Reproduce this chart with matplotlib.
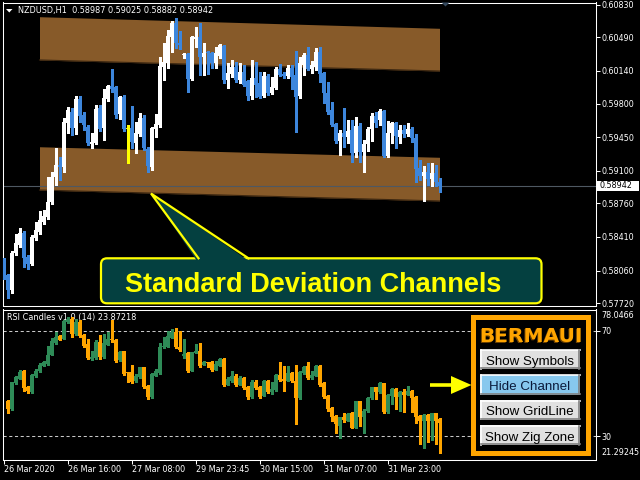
import matplotlib
matplotlib.use('Agg')
import matplotlib.pyplot as plt
from matplotlib.patches import Rectangle, Polygon, FancyBboxPatch
import numpy as np

plt.rcParams['font.family'] = ['DejaVu Sans']

symbol_title = 'NZDUSD,H1  0.58987 0.59025 0.58882 0.58942'
rsi_title = 'RSI Candles v1.0 (14) 23.87218'
callout_text = 'Standard Deviation Channels'
panel_title = 'BERMAUI'
button_labels = ['Show Symbols', 'Hide Channel', 'Show GridLine', 'Show Zig Zone']
bid = 0.58942

# NZDUSD H1 candles
price_open = [
    0.58170, 0.58013, 0.57857, 0.58243, 0.58326, 0.58451, 0.58199, 0.58128, 0.58399, 0.58462,
    0.58566, 0.58618, 0.58774, 0.59035, 0.59160, 0.59139, 0.59597, 0.59712, 0.59545, 0.59847,
    0.59681, 0.59556, 0.59378, 0.59389, 0.59754, 0.59545, 0.59847, 0.59983, 0.59972, 0.59691,
    0.59868, 0.59535, 0.59545, 0.59389, 0.59483, 0.59649, 0.59326, 0.59139, 0.59535, 0.59576,
    0.60181, 0.60222, 0.60493, 0.60639, 0.60431, 0.60306, 0.60316, 0.60056, 0.60473, 0.60493,
    0.60285, 0.60337, 0.60327, 0.60222, 0.60295, 0.60400, 0.60045, 0.60108, 0.60181, 0.60045,
    0.60129, 0.60035, 0.59879, 0.60066, 0.60014, 0.59879, 0.60087, 0.59910, 0.59962, 0.60160,
    0.60108, 0.60087, 0.60170, 0.60098, 0.59879, 0.60202, 0.60306, 0.60160, 0.60181, 0.60337,
    0.60118, 0.59910, 0.59733, 0.59587, 0.59410, 0.59493, 0.59451, 0.59524, 0.59285, 0.59566,
    0.59295, 0.59378, 0.59535, 0.59670, 0.59629, 0.59722, 0.59253, 0.59493, 0.59597, 0.59451,
    0.59524, 0.59483, 0.59535, 0.59441, 0.59128, 0.59045, 0.59087, 0.59014, 0.59076, 0.58987]
price_high = [
    0.58191, 0.58024, 0.58264, 0.58441, 0.58503, 0.58472, 0.58222, 0.58430, 0.58566, 0.58680,
    0.58691, 0.59035, 0.59087, 0.59337, 0.59243, 0.59649, 0.59764, 0.59754, 0.59879, 0.59879,
    0.59712, 0.59576, 0.59493, 0.59785, 0.59785, 0.59952, 0.59993, 0.60160, 0.59983, 0.59879,
    0.59889, 0.59576, 0.59774, 0.59608, 0.59701, 0.59681, 0.59347, 0.59556, 0.59691, 0.60285,
    0.60431, 0.60566, 0.60660, 0.60691, 0.60556, 0.60327, 0.60327, 0.60504, 0.60598, 0.60639,
    0.60431, 0.60348, 0.60337, 0.60389, 0.60420, 0.60410, 0.60222, 0.60254, 0.60233, 0.60222,
    0.60202, 0.60045, 0.60254, 0.60233, 0.60129, 0.60129, 0.60108, 0.60077, 0.60181, 0.60212,
    0.60129, 0.60202, 0.60202, 0.60348, 0.60285, 0.60327, 0.60389, 0.60243, 0.60379, 0.60389,
    0.60129, 0.60025, 0.59816, 0.59597, 0.59524, 0.59754, 0.59629, 0.59629, 0.59660, 0.59597,
    0.59420, 0.59556, 0.59701, 0.59712, 0.59743, 0.59733, 0.59618, 0.59608, 0.59608, 0.59576,
    0.59576, 0.59597, 0.59556, 0.59483, 0.59212, 0.59149, 0.59181, 0.59181, 0.59160, 0.59025]
price_low = [
    0.57972, 0.57774, 0.57826, 0.58222, 0.58305, 0.58097, 0.58076, 0.58118, 0.58378, 0.58441,
    0.58545, 0.58597, 0.58753, 0.58951, 0.59003, 0.59087, 0.59493, 0.59472, 0.59483, 0.59608,
    0.59524, 0.59368, 0.59337, 0.59378, 0.59514, 0.59420, 0.59827, 0.59920, 0.59649, 0.59639,
    0.59514, 0.59181, 0.59337, 0.59285, 0.59462, 0.59316, 0.59087, 0.59108, 0.59451, 0.59556,
    0.60045, 0.60170, 0.60337, 0.60379, 0.60368, 0.60275, 0.59920, 0.60045, 0.60389, 0.60098,
    0.60098, 0.60108, 0.60170, 0.60170, 0.60275, 0.60014, 0.59962, 0.60077, 0.60025, 0.60014,
    0.59983, 0.59837, 0.59847, 0.59868, 0.59858, 0.59868, 0.59889, 0.59900, 0.59952, 0.60087,
    0.60066, 0.60066, 0.59952, 0.59504, 0.59858, 0.60098, 0.60150, 0.60118, 0.60150, 0.60025,
    0.59806, 0.59691, 0.59566, 0.59389, 0.59264, 0.59347, 0.59389, 0.59191, 0.59243, 0.59191,
    0.59087, 0.59306, 0.59410, 0.59556, 0.59576, 0.59243, 0.59243, 0.59389, 0.59337, 0.59389,
    0.59451, 0.59462, 0.59399, 0.58983, 0.59003, 0.58785, 0.58951, 0.58941, 0.58941, 0.58882]
price_close = [
    0.57993, 0.57857, 0.58243, 0.58347, 0.58451, 0.58191, 0.58128, 0.58409, 0.58482, 0.58587,
    0.58628, 0.58774, 0.59035, 0.59160, 0.59139, 0.59608, 0.59733, 0.59545, 0.59847, 0.59670,
    0.59576, 0.59389, 0.59399, 0.59743, 0.59535, 0.59858, 0.59983, 0.59952, 0.59681, 0.59868,
    0.59535, 0.59535, 0.59399, 0.59493, 0.59649, 0.59337, 0.59149, 0.59545, 0.59587, 0.60191,
    0.60233, 0.60504, 0.60639, 0.60431, 0.60410, 0.60316, 0.60056, 0.60493, 0.60493, 0.60285,
    0.60327, 0.60327, 0.60222, 0.60327, 0.60410, 0.60045, 0.60118, 0.60181, 0.60045, 0.60129,
    0.59993, 0.59879, 0.60066, 0.59993, 0.59868, 0.60087, 0.59910, 0.59972, 0.60160, 0.60098,
    0.60087, 0.60170, 0.60077, 0.59868, 0.60222, 0.60306, 0.60160, 0.60202, 0.60337, 0.60108,
    0.59910, 0.59712, 0.59576, 0.59410, 0.59493, 0.59451, 0.59514, 0.59285, 0.59566, 0.59295,
    0.59378, 0.59535, 0.59670, 0.59597, 0.59722, 0.59253, 0.59493, 0.59597, 0.59462, 0.59524,
    0.59483, 0.59535, 0.59441, 0.59118, 0.59045, 0.59087, 0.59014, 0.59076, 0.58983, 0.58942]

# RSI candles (first bar has no value)
nan = np.nan
rsi_open = [
    nan, 43.53, 40.38, 50.10, 51.89, 54.92, 48.85, 46.68, 52.76, 54.66,
    56.82, 57.47, 61.00, 65.44, 67.84, 66.96, 73.27, 74.56, 68.86, 73.27,
    68.22, 65.06, 59.37, 59.75, 65.67, 59.98, 64.80, 66.96, 66.58, 58.99,
    62.25, 54.28, 54.28, 50.86, 52.38, 56.18, 49.23, 44.78, 53.02, 53.90,
    63.77, 64.04, 67.34, 69.47, 64.04, 60.62, 61.49, 54.92, 61.65, 62.25,
    57.20, 58.08, 58.08, 55.19, 56.82, 59.37, 49.61, 50.86, 53.02, 49.61,
    52.00, 48.85, 44.78, 50.48, 48.85, 45.43, 51.13, 46.68, 47.59, 53.40,
    51.77, 51.13, 53.90, 51.13, 44.56, 53.90, 56.82, 52.00, 53.02, 56.82,
    50.10, 45.43, 40.76, 37.83, 34.04, 37.45, 35.93, 38.71, 33.39, 43.26,
    37.19, 39.47, 44.56, 48.58, 46.68, 50.10, 39.09, 45.43, 47.97, 44.78,
    46.95, 45.81, 47.33, 45.05, 37.83, 35.93, 38.21, 35.93, 38.71, 36.58]
rsi_high = [
    nan, 43.91, 50.75, 53.02, 55.30, 55.30, 49.20, 53.80, 55.57, 57.70,
    58.46, 64.42, 67.08, 69.47, 68.22, 73.91, 75.17, 75.17, 74.56, 74.20,
    68.86, 66.96, 62.52, 66.58, 68.22, 68.86, 69.47, 73.91, 66.96, 62.25,
    62.52, 54.50, 57.20, 53.67, 56.44, 56.44, 49.50, 53.90, 55.57, 65.29,
    67.57, 69.85, 70.76, 71.14, 69.85, 66.96, 61.87, 62.10, 65.06, 65.29,
    58.72, 58.30, 58.46, 58.72, 59.60, 59.60, 52.65, 54.92, 53.67, 53.02,
    52.38, 49.23, 51.39, 51.39, 49.23, 51.39, 51.40, 50.48, 53.67, 58.08,
    56.82, 56.82, 54.28, 57.20, 54.92, 56.82, 58.08, 54.92, 57.20, 57.20,
    50.48, 45.81, 41.10, 38.20, 37.45, 38.71, 38.71, 39.09, 43.53, 43.53,
    40.38, 45.05, 48.85, 48.85, 50.48, 50.37, 46.07, 48.35, 48.35, 47.33,
    47.97, 49.23, 47.59, 45.43, 38.21, 38.48, 38.48, 38.98, 38.98, 36.96]
rsi_low = [
    nan, 38.71, 40.10, 49.80, 51.60, 47.33, 46.30, 46.40, 52.50, 54.40,
    56.50, 57.20, 60.70, 65.06, 66.32, 66.70, 73.00, 67.57, 68.50, 67.57,
    63.77, 59.37, 58.99, 59.50, 59.37, 59.70, 64.50, 65.67, 58.08, 58.70,
    53.40, 50.48, 50.10, 50.60, 52.10, 48.47, 44.18, 44.50, 52.70, 53.60,
    63.50, 63.80, 67.10, 63.50, 62.52, 59.75, 54.54, 54.70, 61.40, 56.44,
    57.00, 56.18, 54.92, 55.00, 56.60, 49.23, 49.40, 50.60, 49.23, 49.40,
    47.97, 44.18, 44.50, 47.97, 44.56, 45.20, 46.30, 46.07, 47.30, 51.13,
    47.33, 50.90, 50.48, 34.91, 44.30, 53.60, 51.77, 51.77, 52.80, 49.23,
    44.56, 39.73, 35.93, 31.49, 29.36, 35.67, 35.70, 33.16, 33.10, 34.04,
    31.49, 39.20, 44.30, 44.18, 46.40, 38.71, 38.80, 42.28, 40.38, 39.73,
    39.09, 45.60, 39.09, 35.29, 27.31, 25.79, 28.07, 28.60, 27.31, 23.87]
rsi_close = [
    nan, 40.38, 50.48, 52.65, 54.54, 48.47, 47.06, 53.40, 54.92, 57.20,
    58.08, 61.00, 66.05, 67.57, 66.58, 73.53, 74.56, 68.86, 73.27, 67.84,
    64.42, 59.75, 60.24, 65.67, 59.98, 65.29, 66.96, 66.32, 58.72, 61.87,
    53.67, 53.90, 50.48, 53.02, 56.18, 48.85, 44.78, 53.67, 54.66, 63.77,
    64.42, 67.84, 69.47, 63.77, 62.79, 61.27, 54.92, 61.87, 62.25, 56.82,
    58.08, 57.70, 55.19, 57.47, 59.37, 49.61, 51.77, 53.02, 49.61, 52.00,
    48.35, 44.78, 50.48, 48.35, 45.05, 51.13, 46.68, 47.97, 53.40, 51.39,
    51.13, 53.90, 50.86, 44.56, 54.54, 56.44, 52.00, 53.29, 56.82, 49.61,
    44.78, 40.38, 37.45, 34.68, 37.19, 36.20, 38.48, 33.39, 43.26, 37.19,
    39.73, 44.56, 48.58, 46.68, 50.10, 39.09, 45.81, 47.97, 44.78, 46.95,
    45.81, 47.33, 44.56, 37.45, 35.93, 38.21, 35.93, 38.71, 35.93, 35.29]

# standard deviation channel (bar index of ends, band edges)
chan_x = [9, 109]
upper_top = [0.60705, 0.60584]
upper_bot = [0.60254, 0.60139]
lower_top = [0.59350, 0.59240]
lower_bot = [0.58899, 0.58785]

price_ticks = [0.60830, 0.60490, 0.60140, 0.59800, 0.59450,
               0.59100, 0.58760, 0.58410, 0.58060, 0.57720]
rsi_levels = [70, 30]
rsi_min, rsi_max = 21.29245, 78.0466
time_pos = [0, 16, 32, 48, 64, 80, 96]
time_labels = ['26 Mar 2020', '26 Mar 16:00', '27 Mar 08:00', '29 Mar 23:45',
               '30 Mar 15:00', '31 Mar 07:00', '31 Mar 23:00']

W, H = 640, 480
fig = plt.figure(figsize=(6.4, 4.8), dpi=100, facecolor='black')


def add_px_axes(l, t, r, b, **kw):
    return fig.add_axes([l / W, 1 - b / H, (r - l) / W, (b - t) / H], **kw)


def draw_candles(ax, o, h, l, c, up, down, flat, min_body):
    o, h, l, c = (np.asarray(v, float) for v in (o, h, l, c))
    x = np.arange(len(o))
    ok = ~np.isnan(o)
    col = np.where(c > o, up, np.where(c < o, down, flat))
    ax.vlines(x[ok], l[ok], h[ok], colors=col[ok], lw=0.75, zorder=3,
              antialiased=False)
    bottom = np.minimum(o, c)
    height = np.maximum(np.abs(c - o), min_body)
    ax.bar(x[ok], height[ok], 0.75, bottom[ok], color=col[ok], lw=0,
           zorder=4)


def style_axes(ax):
    ax.set_facecolor('black')
    for s in ax.spines.values():
        s.set_color('white')
        s.set_linewidth(0.75)
    ax.tick_params(colors='white', labelcolor='white', labelsize=5.8,
                   length=2.6, width=0.75, pad=1.5)


# ---- price window
ax = add_px_axes(2.5, 2.5, 595.5, 305.5)
style_axes(ax)
ax.set_xlim(-0.25, 148)
ax.set_ylim(0.576957, 0.608529)
band = '#875a29'
ax.fill_between(chan_x, upper_bot, upper_top, color=band, lw=0, zorder=1)
ax.fill_between(chan_x, lower_bot, lower_top, color=band, lw=0, zorder=1)
ax.plot(chan_x, upper_bot, color='#3b2610', lw=0.8, zorder=1.5)
ax.plot(chan_x, lower_bot, color='#3b2610', lw=0.8, zorder=1.5)
ax.axhline(bid, color='#4e5862', lw=0.8, zorder=2)
draw_candles(ax, price_open, price_high, price_low, price_close,
             '#ffffff', '#3d86dc', '#ffff00', 0.0001)
ax.set_xticks([])
ax.yaxis.tick_right()
ax.set_yticks(price_ticks)
ax.set_yticklabels([f'{v:.5f}' for v in price_ticks])

# ---- RSI window
ar = add_px_axes(2.5, 309.5, 595.5, 459.5)
style_axes(ar)
ar.set_xlim(-0.25, 148)
ar.set_ylim(rsi_min, rsi_max)
for lv in rsi_levels:
    ar.axhline(lv, color='#c8c8c8', lw=0.75, ls=(0, (3, 2.5)), zorder=1)
draw_candles(ar, rsi_open, rsi_high, rsi_low, rsi_close,
             '#2e8b57', '#ffa500', '#ffa500', 0.4)
ar.yaxis.tick_right()
ar.set_yticks(rsi_levels)
ar.set_yticklabels([str(v) for v in rsi_levels])
ar.set_xticks(time_pos)
ar.set_xticklabels(time_labels, ha='left')
ar.tick_params(axis='x', length=3, pad=1.2)

# ---- overlay in pixel coordinates
ov = fig.add_axes([0, 0, 1, 1], zorder=10)
ov.set_xlim(0, W)
ov.set_ylim(H, 0)
ov.axis('off')
ov.patch.set_alpha(0)

ov.add_patch(Polygon([(6, 9), (12.5, 9), (9.25, 12.5)], fc='white', lw=0))
ov.text(18, 10.8, symbol_title, color='white', fontsize=5.9, va='center')
ov.add_patch(Polygon([(441.5, 2.5), (449.5, 2.5), (445.5, 6.5)],
                     fc='#34495e', lw=0))
ar.text(7, 317.5, rsi_title, color='white', fontsize=5.9, va='center',
        transform=ov.transData, zorder=0.5)

# current price label
ov.add_patch(Rectangle((596.5, 180.5), 42, 10.5, fc='white', lw=0))
ov.text(599, 186, f'{bid:.5f}', color='black', fontsize=5.8, va='center')

# RSI range labels
ov.text(601.5, 315.5, f'{rsi_max:g}', color='white', fontsize=5.8, va='center')
ov.text(601.5, 452.7, f'{rsi_min:.5f}', color='white', fontsize=5.8,
        va='center')

# callout
teal = '#044040'
yel = '#ffff00'
ov.add_patch(FancyBboxPatch((101, 258.3), 440.5, 45, fc=teal, ec=yel, lw=1.6,
                            boxstyle='round,pad=0,rounding_size=6'))
ov.add_patch(Polygon([(197, 261), (151, 193.5), (249, 261)], fc=teal, lw=0))
ov.plot([198.5, 151, 248.5], [258.3, 193.5, 258.3], color=yel, lw=1.6,
        solid_joinstyle='miter')
ov.text(313, 292.5, callout_text, color=yel, fontsize=19.5, fontweight='bold',
        family='Liberation Sans', ha='center', va='baseline')

# control panel
orange = '#ffa500'
ov.add_patch(Rectangle((472.5, 316.5), 115, 136, fc='black', ec=orange,
                       lw=3.6))
ov.text(530.2, 343.2, panel_title, color='#6b4000', fontsize=14.5,
        fontweight='bold', family=['Liberation Sans Narrow', 'DejaVu Sans'],
        ha='center', va='baseline')
ov.text(531, 342.5, panel_title, color=orange, fontsize=14.5,
        fontweight='bold', family=['Liberation Sans Narrow', 'DejaVu Sans'],
        ha='center', va='baseline')

btn_rows = [(349.5, 369), (374.5, 394.5), (400, 419.5), (425, 445)]
for (y0, y1), lab in zip(btn_rows, button_labels):
    active = lab.startswith('Hide')
    fc = '#87c8ee' if active else '#e0e0e0'
    tc = '#0a1a3a' if active else 'black'
    ov.add_patch(Rectangle((480, y0), 100, y1 - y0, fc=fc, lw=0))
    ov.plot([480.5, 579.5], [y0 + 0.6, y0 + 0.6], color='white', lw=1.2)
    ov.plot([480.6, 480.6], [y0 + 0.5, y1 - 0.5], color='white', lw=1.2)
    ov.plot([480.5, 579.5], [y1 - 0.6, y1 - 0.6], color='#808080', lw=1.2)
    ov.plot([579.4, 579.4], [y0 + 0.5, y1 - 0.5], color='#808080', lw=1.2)
    ov.text(530, y1 - 4.2, lab, color=tc, fontsize=9.6,
            family='Liberation Sans', ha='center', va='baseline')

# arrow pointing to the panel
ov.add_patch(Polygon([(430, 383.2), (451, 383.2), (451, 376), (471.5, 385),
                      (451, 394), (451, 386.8), (430, 386.8)], fc=yel, lw=0))

fig.savefig('out.png', dpi=100, facecolor='black')
